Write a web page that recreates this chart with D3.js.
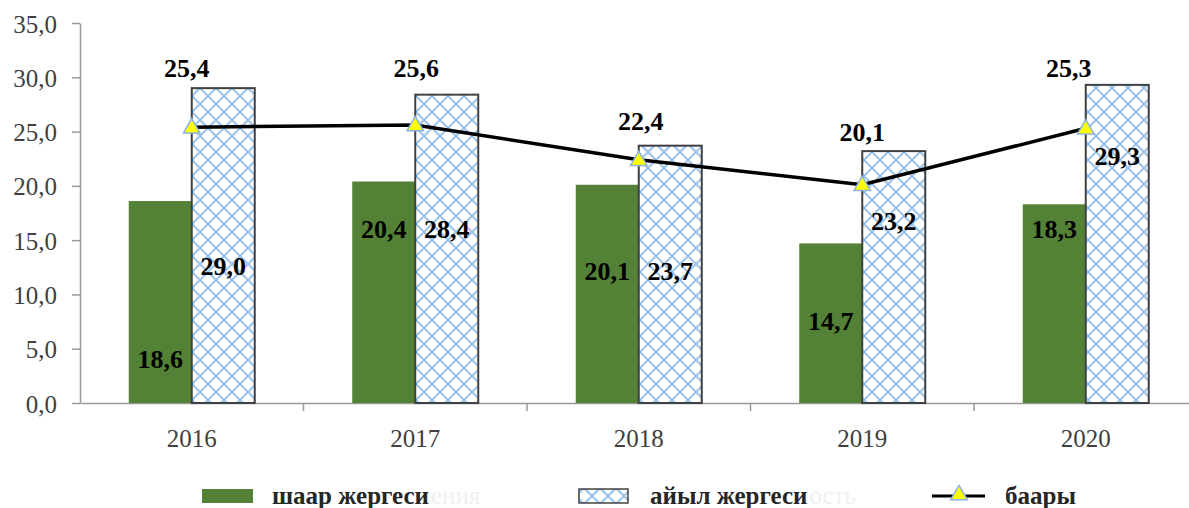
<!DOCTYPE html>
<html>
<head>
<meta charset="utf-8">
<script src="https://cdn.jsdelivr.net/npm/d3@7"></script>
<style>
	body { margin: 0; background: #fff; }
	svg text { font-family: 'Liberation Serif', 'DejaVu Serif', serif !important; }
</style>
</head>
<body>
<svg width="1189" height="508" id="chart"></svg>
<script>
	// data
	var years = ["2016", "2017", "2018", "2019", "2020"];
	var city = [18.6, 20.4, 20.1, 14.7, 18.3];      // шаар жергеси
	var rural = [29.0, 28.4, 23.7, 23.2, 29.3];     // айыл жергеси
	var total = [25.4, 25.6, 22.4, 20.1, 25.3];     // баары
	var yTicks = [0, 5, 10, 15, 20, 25, 30, 35];

	// where the value labels sit (in axis units), as in the original
	var cityLabelAt = [3.2, 15.2, 11.3, 6.7, 15.2];
	var ruralLabelAt = [11.8, 15.2, 11.3, 15.9, 21.9];
	var totalLabelAt = [30.0, 30.0, 25.1, 24.1, 30.0];
	var totalLabelDx = [-5, 1, 2, 0, -17];

	var serif = "'Liberation Serif', 'DejaVu Serif', serif";
	var fmt = function(v) { return v.toFixed(1).replace(".", ","); };

	var svg = d3.select("svg#chart");

	var x = d3.scaleBand()
		.domain(years)
		.range([80, 1197.5]);

	var y = d3.scaleLinear()
		.domain([0, 35])
		.range([403, 23]);

	var barW = 63;

	// hatch pattern
	var defs = svg.append("defs");
	var pat = defs.append("pattern")
		.attr("id", "hatch")
		.attr("patternUnits", "userSpaceOnUse")
		.attr("width", 16).attr("height", 16);
	pat.append("rect").attr("width", 16).attr("height", 16).attr("fill", "#fff");
	pat.append("path")
		.attr("d", "M-4,4 L4,-4 M0,16 L16,0 M12,20 L20,12 M-4,12 L4,20 M0,0 L16,16 M12,-4 L20,4")
		.attr("stroke", "#9cc3ea")
		.attr("stroke-width", 2);

	// y axis
	var yAxis = svg.append("g")
		.attr("transform", "translate(80,0)")
		.call(d3.axisLeft(y).tickValues(yTicks).tickSize(8).tickSizeOuter(0).tickFormat(fmt));
	yAxis.attr("font-family", serif);
	yAxis.select(".domain").attr("stroke", "#999").attr("stroke-width", 1.5);
	yAxis.selectAll(".tick line").attr("stroke", "#999").attr("stroke-width", 1.5);
	yAxis.selectAll(".tick text")
		.attr("x", -23)
		.attr("dy", "0.36em")
		.style("font-family", serif)
		.style("font-size", "25px")
		.attr("fill", "#404040");

	// x axis
	var xAxis = svg.append("g")
		.attr("transform", "translate(0," + y(0) + ")")
		.call(d3.axisBottom(x).tickSize(0).tickSizeOuter(0));
	xAxis.attr("font-family", serif);
	xAxis.select(".domain").attr("stroke", "#999").attr("stroke-width", 1.5);
	xAxis.selectAll(".tick text")
		.attr("y", 26)
		.attr("dy", "0.71em")
		.style("font-family", serif)
		.style("font-size", "25px")
		.attr("fill", "#404040");
	xAxis.selectAll(".sep")
		.data(years.slice(1))
		.enter().append("line")
		.attr("x1", function(d) { return x(d); })
		.attr("x2", function(d) { return x(d); })
		.attr("y1", 0).attr("y2", 8)
		.attr("stroke", "#999").attr("stroke-width", 1.5);

	// city bars
	svg.selectAll(".city")
		.data(city)
		.enter().append("rect")
		.attr("class", "city")
		.attr("x", function(d, i) { return x(years[i]) + x.bandwidth() / 2 - barW; })
		.attr("width", barW)
		.attr("y", function(d) { return y(d); })
		.attr("height", function(d) { return y(0) - y(d); })
		.attr("fill", "#538135");

	// rural bars
	svg.selectAll(".rural")
		.data(rural)
		.enter().append("rect")
		.attr("class", "rural")
		.attr("x", function(d, i) { return x(years[i]) + x.bandwidth() / 2; })
		.attr("width", barW)
		.attr("y", function(d) { return y(d); })
		.attr("height", function(d) { return y(0) - y(d); })
		.attr("fill", "url(#hatch)")
		.attr("stroke", "#404040")
		.attr("stroke-width", 2);

	// total line
	var line = d3.line()
		.x(function(d, i) { return x(years[i]) + x.bandwidth() / 2; })
		.y(function(d) { return y(d); });
	svg.append("path")
		.datum(total)
		.attr("d", line)
		.attr("fill", "none")
		.attr("stroke", "#000")
		.attr("stroke-width", 3.5);

	var tri = d3.symbol().type(d3.symbolTriangle).size(120);
	svg.selectAll(".pt")
		.data(total)
		.enter().append("path")
		.attr("class", "pt")
		.attr("d", tri)
		.attr("transform", function(d, i) { return "translate(" + (x(years[i]) + x.bandwidth() / 2) + "," + (y(d) + 1) + ")"; })
		.attr("fill", "#ffff00")
		.attr("stroke", "#8db4e2")
		.attr("stroke-width", 1.5);

	// value labels
	function labels(cls, vals, at, dx) {
		svg.selectAll("." + cls)
			.data(vals)
			.enter().append("text")
			.attr("class", cls)
			.attr("x", function(d, i) { return x(years[i]) + x.bandwidth() / 2 + dx(i); })
			.attr("y", function(d, i) { return y(at[i]); })
			.attr("text-anchor", "middle")
			.style("font-family", serif)
			.style("font-size", "26px")
			.style("font-weight", "bold")
			.attr("fill", "#000")
			.text(fmt);
	}
	labels("lc", city, cityLabelAt, function() { return -barW / 2; });
	labels("lr", rural, ruralLabelAt, function() { return barW / 2; });
	labels("lt", total, totalLabelAt, function(i) { return totalLabelDx[i]; });

	// legend
	var lg = svg.append("g");
	lg.append("rect").attr("x", 202).attr("y", 489).attr("width", 51).attr("height", 14).attr("fill", "#538135");
	lg.append("rect").attr("x", 579).attr("y", 489).attr("width", 49).attr("height", 14)
		.attr("fill", "url(#hatch)").attr("stroke", "#404040").attr("stroke-width", 1.5);
	lg.append("line").attr("x1", 932).attr("x2", 985).attr("y1", 496).attr("y2", 496)
		.attr("stroke", "#000").attr("stroke-width", 3);
	lg.append("path").attr("d", tri).attr("transform", "translate(959,495)")
		.attr("fill", "#ffff00").attr("stroke", "#8db4e2").attr("stroke-width", 1.5);

	var legendText = [
		{ x: 272, ghost: "ения", t: "шаар жергеси" },
		{ x: 650, ghost: "ость", t: "айыл жергеси" },
		{ x: 1005, ghost: "", t: "баары" }
	];
	legendText.forEach(function(d) {
		var t = lg.append("text")
			.attr("x", d.x).attr("y", 504)
			.style("font-family", serif)
			.style("font-size", "25px")
			.style("font-weight", "bold")
			.attr("fill", "#262626")
			.text(d.t);
		if (d.ghost) {
			var w = t.node().getComputedTextLength();
			lg.append("text")
				.attr("x", d.x + w + 2).attr("y", 504)
				.style("font-family", serif)
				.style("font-size", "25px")
				.attr("fill", "#f0f0f0")
				.text(d.ghost);
		}
	});
</script>
</body>
</html>
